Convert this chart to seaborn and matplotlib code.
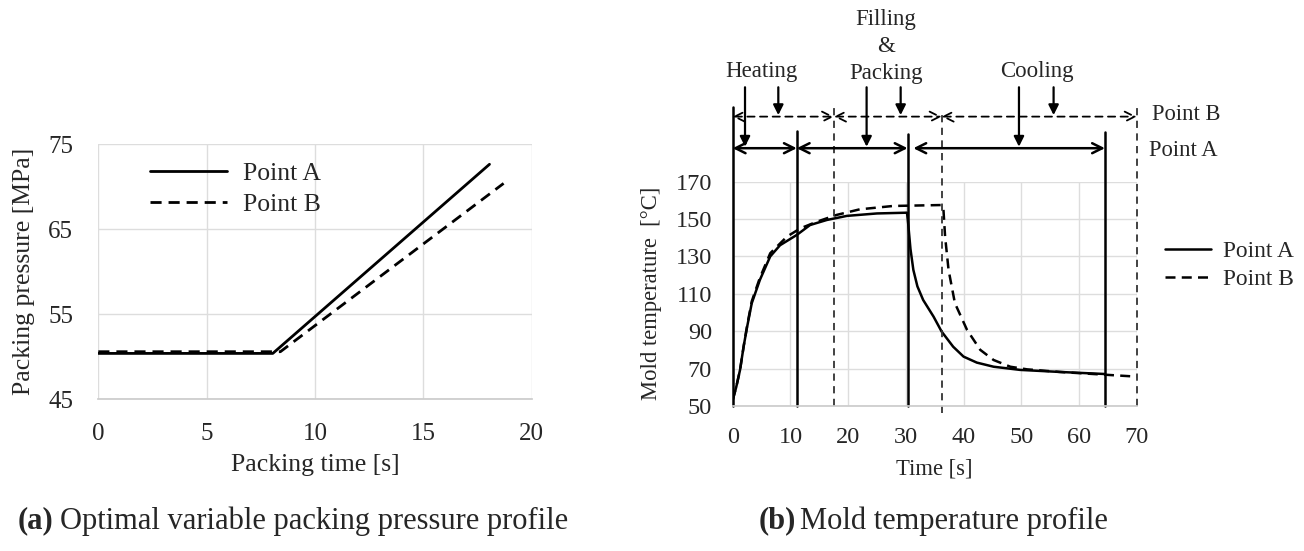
import pandas as pd
import matplotlib
matplotlib.use('Agg')
import matplotlib.pyplot as plt
import seaborn as sns

# (a) packing pressure profile
pack_time_a = [0, 8.05, 18.05]
pack_press_a = [50.4, 50.4, 72.65]
pack_time_b = [0, 8.4, 18.7]
pack_press_b = [50.6, 50.6, 70.4]

# (b) mold temperature profile
temp_time_a = [0, 0.6, 1.27, 1.9, 2.5, 3.3, 4.7, 6.5, 8.2, 11.1, 13.4, 16.3, 19.8, 25.0,
               30.2, 30.4, 30.8, 31.3, 32.0, 33.0, 34.8, 36.2, 38.2, 40.0, 42.3, 45.2,
               49.8, 56.7, 64.5]
temp_val_a = [53.2, 60, 69.3, 82, 92.4, 105, 117.4, 130, 136, 141.5, 146.8, 149.5, 151.7,
              153, 153.4, 147.7, 134, 122.8, 114, 106.7, 97.8, 89.8, 81.7, 76.4, 73.2, 71,
              69.3, 68.2, 67.1]
temp_time_b = [0, 0.6, 1.27, 1.9, 2.5, 3.3, 4.7, 6.5, 9.4, 11.7, 14.6, 18.0, 22.0, 27.8,
               36.2, 36.5, 36.8, 37.4, 38.5, 40.6, 42.9, 45.2, 48.1, 51.0, 56.7, 62.5, 70.0]
temp_val_b = [53.2, 60, 69.3, 82, 93, 106, 118.5, 131.7, 140.6, 145, 148.6, 152.2, 155.2,
              157, 157.5, 155.8, 140.6, 122.8, 105, 90.7, 80, 74.6, 71, 69.6, 68.2, 67.1,
              65.7]

# phase boundaries [s]
bounds_a = [0, 11.1, 30.3, 64.5]
bounds_b = [0, 17.55, 36.2, 70]
cool_start_a = 31.3
down_a = [2.13, 23.2, 49.6]
down_b = [7.9, 29.1, 55.6]
phase_labels = ['Heating', 'Filling\n&\nPacking', 'Cooling']
phase_label_x = [5.0, 26.5, 52.7]

df_p = pd.concat([
    pd.DataFrame({'t': pack_time_a, 'p': pack_press_a, 's': 'Point A'}),
    pd.DataFrame({'t': pack_time_b, 'p': pack_press_b, 's': 'Point B'}),
])
df_t = pd.concat([
    pd.DataFrame({'t': temp_time_a, 'T': temp_val_a, 's': 'Point A'}),
    pd.DataFrame({'t': temp_time_b, 'T': temp_val_b, 's': 'Point B'}),
])

sns.set_theme(style='whitegrid')
plt.rcParams['font.family'] = ['Liberation Serif', 'DejaVu Serif']
plt.rcParams['grid.color'] = '#dddddd'
plt.rcParams['axes.edgecolor'] = '#cccccc'

fig = plt.figure(figsize=(13.04, 5.51), dpi=100)
ax1 = fig.add_axes([0.0754, 0.2753, 0.3324, 0.4628])
ax2 = fig.add_axes([0.5619, 0.2632, 0.3098, 0.4071])

#(a)
sns.lineplot(data=df_p, x='t', y='p', style='s', color='black', linewidth=2.0,
             dashes={'Point A': '', 'Point B': (4, 2.5)}, ax=ax1, sort=False)
ax1.set_xlim(0, 20)
ax1.set_ylim(45, 75)
ax1.set_xticks([0, 5, 10, 15, 20])
ax1.set_yticks([45, 55, 65, 75])
ax1.tick_params(labelsize=18, length=0)
ax1.tick_params(axis='x', pad=17)
ax1.tick_params(axis='y', pad=18)
ax1.set_xlabel('Packing time [s]', fontsize=18.5)
ax1.set_ylabel('Packing pressure [MPa]', fontsize=18.5)
ax1.xaxis.set_label_coords(0.5, -0.215)
ax1.yaxis.set_label_coords(-0.145, 0.5)
for side in ['top', 'right', 'left']:
    ax1.spines[side].set_visible(False)
ax1.legend(loc='upper left', bbox_to_anchor=(0.119, 0.93), frameon=False, fontsize=18.5,
           borderpad=0, borderaxespad=0, handlelength=3.0, handletextpad=0.63,
           labelspacing=0.3)

#(b)
sns.lineplot(data=df_t, x='t', y='T', style='s', color='black', linewidth=1.8,
             dashes={'Point A': '', 'Point B': (4, 2.5)}, ax=ax2, sort=False)
ax2.set_xlim(0, 70)
ax2.set_ylim(50, 170)
ax2.set_xticks(range(0, 71, 10))
ax2.set_yticks(range(50, 171, 20))
ax2.tick_params(labelsize=17.5, length=0)
ax2.tick_params(axis='x', pad=15)
ax2.tick_params(axis='y', pad=15)
ax2.set_xlabel('Time [s]', fontsize=16.3)
ax2.set_ylabel('Mold temperature  [°C]', fontsize=16.3)
ax2.xaxis.set_label_coords(0.5, -0.236)
ax2.yaxis.set_label_coords(-0.175, 0.5)
for side in ['top', 'right', 'left']:
    ax2.spines[side].set_visible(False)
ax2.legend(loc='upper left', bbox_to_anchor=(1.07, 0.738), frameon=False, fontsize=16.8,
           borderpad=0, borderaxespad=0, handlelength=1.96, handletextpad=0.52,
           labelspacing=0.3)

# phase boundaries
top_a = [209.8, 197.1, 195.4, 196.4]
for x, yt in zip(bounds_a, top_a):
    ax2.plot([x, x], [50, yt], color='black', lw=1.8, clip_on=False)
bot_b = [50, 50, 46.1, 50]
top_b = [211, 211, 206.5, 211]
for x, yb, yt in zip(bounds_b[1:], bot_b[1:], top_b[1:]):
    ax2.plot([x, x], [yb, yt], color='#333333', lw=1.3, ls=(0, (4, 3)), clip_on=False)

y_arr_b = 204.8
y_arr_a = 187.9
starts_a = [bounds_a[0], bounds_a[1], cool_start_a]
for x0, x1 in zip(starts_a, bounds_a[1:]):
    ax2.annotate('', xy=(x1, y_arr_a), xytext=(x0, y_arr_a), annotation_clip=False,
                 arrowprops=dict(arrowstyle='<->', color='black', lw=1.8,
                                 shrinkA=0, shrinkB=0, mutation_scale=18))
for x0, x1 in zip(bounds_b[:-1], bounds_b[1:]):
    ax2.annotate('', xy=(x1, y_arr_b), xytext=(x0, y_arr_b), annotation_clip=False,
                 arrowprops=dict(arrowstyle='<->', color='black', lw=1.3, ls=(0, (4, 3)),
                                 shrinkA=0, shrinkB=0, mutation_scale=18))
for x in down_a:
    ax2.annotate('', xy=(x, y_arr_a + 0.8), xytext=(x, 220.5), annotation_clip=False,
                 arrowprops=dict(arrowstyle='-|>', color='black', lw=1.6,
                                 shrinkA=0, shrinkB=0, mutation_scale=15))
for x in down_b:
    ax2.annotate('', xy=(x, y_arr_b + 0.8), xytext=(x, 220.5), annotation_clip=False,
                 arrowprops=dict(arrowstyle='-|>', color='black', lw=1.6,
                                 shrinkA=0, shrinkB=0, mutation_scale=15))
phase_label_y = [228.9, 242.1, 228.9]
for lab, x, y in zip(phase_labels, phase_label_x, phase_label_y):
    ax2.text(x, y, lab, ha='center', va='center', fontsize=16.5, linespacing=1.38,
             clip_on=False)
ax2.text(72.7, 205.7, 'Point B', ha='left', va='center', fontsize=16.3, clip_on=False)
ax2.text(72.1, 186.6, 'Point A', ha='left', va='center', fontsize=16.3, clip_on=False)

# captions
fig.text(0.0138, 0.0544, '(a)', fontsize=22, fontweight='bold', ha='left', va='center')
fig.text(0.046, 0.0544, 'Optimal variable packing pressure profile', fontsize=22,
         ha='left', va='center')
fig.text(0.582, 0.0544, '(b)', fontsize=22, fontweight='bold', ha='left', va='center')
fig.text(0.6135, 0.0544, 'Mold temperature profile', fontsize=22, ha='left', va='center')

fig.savefig('out.png', dpi=100)
